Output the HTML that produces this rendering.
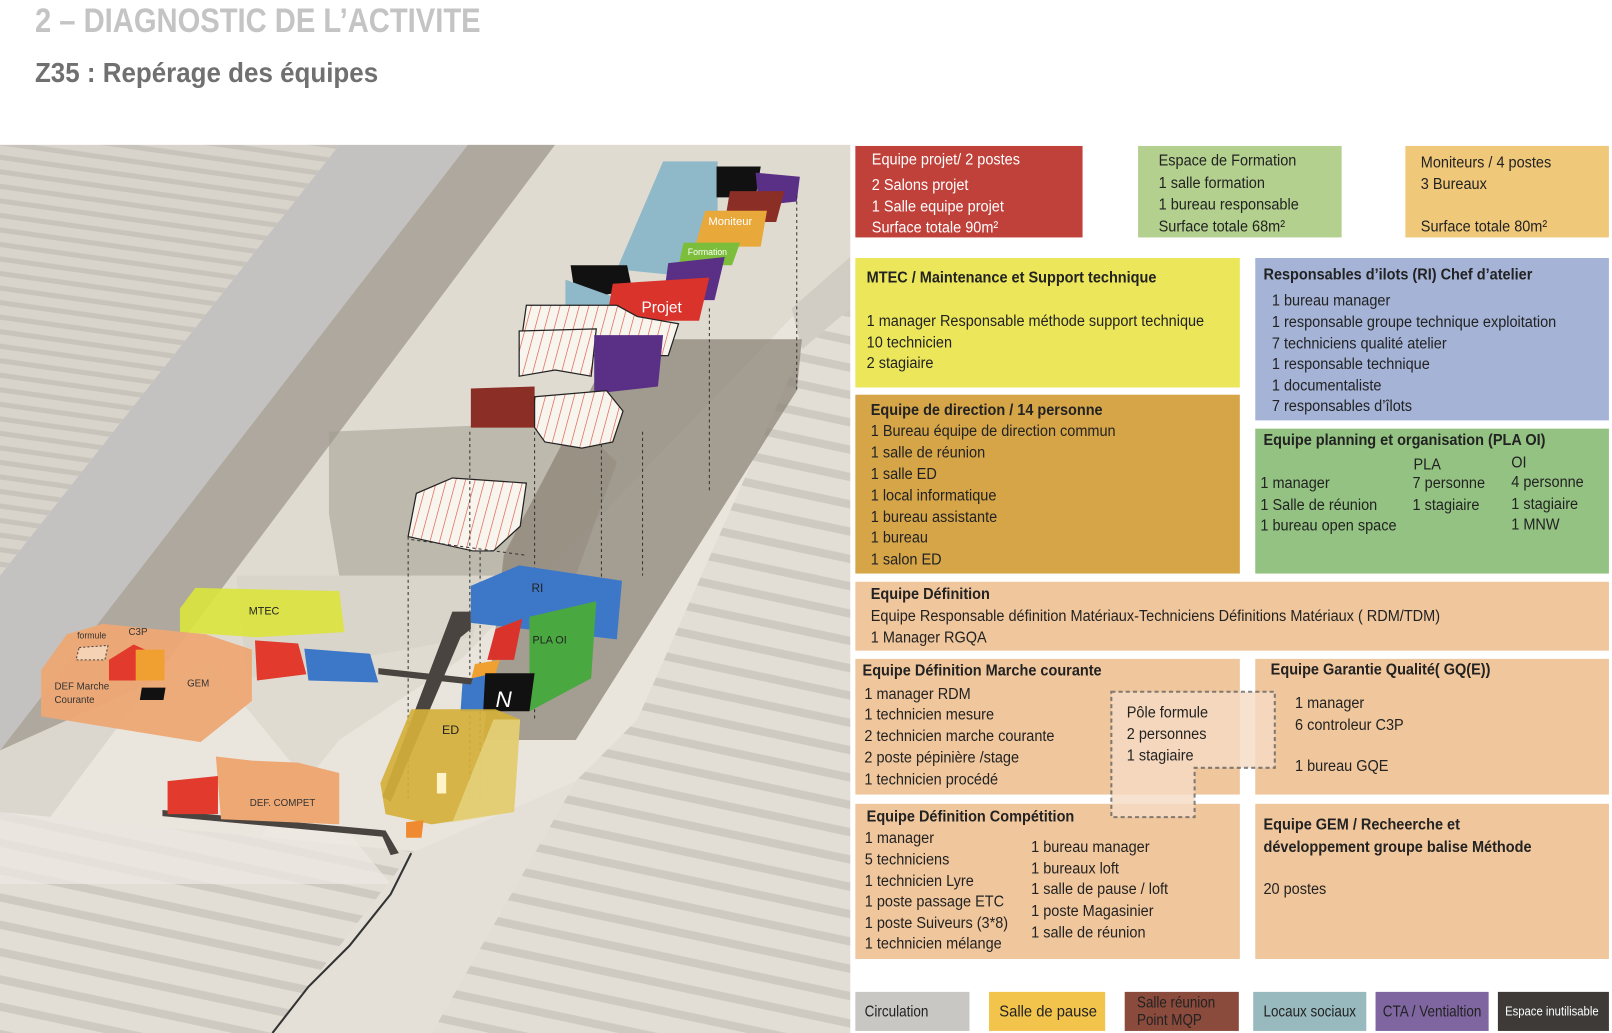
<!DOCTYPE html>
<html><head><meta charset="utf-8"><style>
html,body{margin:0;padding:0;background:#fff;}
svg{display:block;}
.t{font-family:"Liberation Sans",sans-serif;font-size:15.5px;fill:#222;}
.b{font-weight:bold;}
.w{fill:#fff;}
.m{font-family:"Liberation Sans",sans-serif;font-size:9.5px;fill:#333;}
</style></head><body>
<svg width="1612" height="1033" viewBox="0 0 1568 1005" preserveAspectRatio="none" xmlns="http://www.w3.org/2000/svg">
<defs>
<pattern id="hatch" width="9" height="9" patternUnits="userSpaceOnUse" patternTransform="rotate(15)">
<rect width="9" height="9" fill="#f8f4ee"/><line x1="0" y1="0" x2="0" y2="9" stroke="#d9503a" stroke-width="1.2"/></pattern>
<pattern id="roofL" width="40" height="14" patternUnits="userSpaceOnUse" patternTransform="rotate(8)">
<rect width="40" height="14" fill="#d8d4cc"/><rect y="9" width="40" height="5" fill="#c9c4bb"/></pattern>
<pattern id="roofR" width="60" height="26" patternUnits="userSpaceOnUse" patternTransform="rotate(12)">
<rect width="60" height="26" fill="#e2ded6"/><rect y="18" width="60" height="8" fill="#cfcac1"/></pattern>
</defs>
<!-- titles -->
<g transform="matrix(0.86,0,0,1,4.76,0)"><text x="34" y="31" style="font-family:'Liberation Sans',sans-serif;font-weight:bold;font-size:33px;fill:#c4c4c4">2 – DIAGNOSTIC DE L’ACTIVITE</text></g>
<g transform="matrix(0.935,0,0,1,2.21,0)"><text x="34" y="80" style="font-family:'Liberation Sans',sans-serif;font-weight:bold;font-size:27px;fill:#707070">Z35 : Repérage des équipes</text></g>

<!-- map -->
<g>
<rect x="0" y="141" width="827" height="864" fill="#e9e5dd"/>
<polygon points="0,141 330,141 0,560" fill="url(#roofL)"/>
<polygon points="330,141 455,141 0,730 0,560" fill="#c3c2c0"/>
<polygon points="455,141 540,141 0,860 0,730" fill="#aea89e"/>
<polygon points="540,141 827,141 827,250 450,640 330,720 200,880 0,940 0,860" fill="#e0dbd1"/>
<polygon points="0,790 420,830 265,1005 0,1005" fill="url(#roofR)"/>
<polygon points="780,340 827,300 827,1005 420,1005 560,760 620,700" fill="url(#roofR)"/>
<polygon points="827,250 827,300 780,340 770,300" fill="#d2cdc4"/>
<polygon points="320,420 560,410 600,450 560,560 330,560 320,500" fill="#a39c90" opacity="0.55"/>
<polygon points="600,330 780,330 775,380 560,720 470,720 490,540" fill="#8c8477" opacity="0.75"/>
<polygon points="230,560 470,560 460,620 240,660" fill="#d6d1c6" opacity="0.6"/>
<polygon points="0,730 200,640 380,860 0,860" fill="#eeeae2" opacity="0.7"/>
<polygon points="0,860 380,860 270,1005 0,1005" fill="url(#roofR)" opacity="0.9"/>
<polygon points="400,830 560,760 420,1005 265,1005" fill="#e4e0d8"/>
<!-- top column blocks -->
<polygon points="600,262 645,157 698,157 698,228 660,268" fill="#8fb8c8"/>
<polygon points="697,162 740,162 735,192 697,192" fill="#111"/>
<polygon points="735,168 778,172 775,196 738,200" fill="#5a2f86"/>
<polygon points="710,186 763,186 755,216 705,216" fill="#8a2e26"/>
<polygon points="686,205 746,205 740,240 676,240" fill="#e8a83a"/>
<text x="689" y="219" style="font-family:'Liberation Sans',sans-serif;font-size:11px;fill:#fff">Moniteur</text>
<polygon points="665,236 720,236 712,258 660,258" fill="#7cbe3c"/>
<text x="669" y="248" style="font-family:'Liberation Sans',sans-serif;font-size:8.5px;fill:#fff">Formation</text>
<polygon points="650,256 705,250 695,292 645,292" fill="#5a2f86"/>
<polygon points="555,258 610,258 615,282 560,292" fill="#111"/>
<polygon points="550,272 600,290 600,302 550,302" fill="#8fb8c8"/>
<polygon points="596,276 690,270 680,312 590,312" fill="#d9332b"/>
<polygon points="512,297 600,297 620,308 660,315 650,346 505,346" fill="url(#hatch)" stroke="#222" stroke-width="1.2"/>
<text x="624" y="304" style="font-family:'Liberation Sans',sans-serif;font-size:15px;fill:#fff">Projet</text>
<polygon points="505,322 580,320 575,366 540,360 505,366" fill="url(#hatch)" stroke="#222" stroke-width="1.2"/>
<polygon points="578,326 645,326 640,376 578,383" fill="#5a2f86"/>
<polygon points="458,378 520,376 520,416 458,416" fill="#8a2e26"/>
<polygon points="520,386 590,380 606,400 596,430 566,436 530,430 520,416" fill="url(#hatch)" stroke="#222" stroke-width="1.2"/>
<polygon points="405,480 440,465 512,470 506,512 480,536 460,536 397,522" fill="url(#hatch)" stroke="#222" stroke-width="1.2"/>
<g stroke="#333" stroke-width="1" stroke-dasharray="3,3">
<line x1="397" y1="522" x2="397" y2="780"/><line x1="457" y1="420" x2="457" y2="780"/>
<line x1="467" y1="536" x2="467" y2="780"/><line x1="520" y1="420" x2="520" y2="700"/>
<line x1="585" y1="432" x2="585" y2="600"/><line x1="625" y1="420" x2="625" y2="560"/>
<line x1="690" y1="300" x2="690" y2="480"/><line x1="775" y1="190" x2="775" y2="380"/>
<line x1="400" y1="525" x2="510" y2="540"/>
</g>
<!-- middle column -->
<polygon points="440,595 458,595 458,612 448,620 380,780 372,775" fill="#4a4440"/>
<polygon points="458,570 505,550 605,565 600,622 458,606" fill="#3d78c8"/>
<text x="517" y="576" style="font-family:'Liberation Sans',sans-serif;font-size:11.5px;fill:#222">RI</text>
<polygon points="515,600 580,585 575,660 515,692" fill="#4aa840"/>
<text x="518" y="626" style="font-family:'Liberation Sans',sans-serif;font-size:10.5px;fill:#222">PLA OI</text>
<polygon points="482,612 508,602 500,642 474,642" fill="#d9332b"/>
<polygon points="462,646 486,642 480,662 458,662" fill="#f0a030"/>
<polygon points="450,662 476,656 470,692 448,692" fill="#3d78c8"/>
<polygon points="472,655 520,655 515,692 470,692" fill="#111"/>
<text x="482" y="688" style="font-family:'Liberation Sans',sans-serif;font-size:22px;fill:#fff;font-style:italic">N</text>
<polygon points="400,690 482,690 506,700 500,790 420,802 375,792 370,762" fill="#d4b03a" opacity="0.92"/>
<polygon points="480,700 506,700 500,790 440,800" fill="#e8d98a" opacity="0.7"/>
<text x="430" y="714" style="font-family:'Liberation Sans',sans-serif;font-size:12px;fill:#222">ED</text>
<rect x="425" y="752" width="9" height="20" fill="#fff4c8"/>
<polygon points="395,800 412,798 410,815 395,815" fill="#f08a30"/>
<polygon points="368,650 460,660 458,666 368,656" fill="#4a4440"/>
<polygon points="158,788 375,808 388,830 380,832 372,814 158,794" fill="#4a4440"/>
<polyline points="400,830 380,870 340,920 300,960 265,1005" fill="none" stroke="#333" stroke-width="2"/>
<!-- left -->
<polygon points="175,592 190,572 330,575 335,615 250,620 175,615" fill="#dbe43c" opacity="0.9"/>
<text x="242" y="598" style="font-family:'Liberation Sans',sans-serif;font-size:10.5px;fill:#222">MTEC</text>
<polygon points="40,652 65,617 100,607 200,617 245,632 245,682 195,722 40,697" fill="#eea874" opacity="0.95"/>
<text x="75" y="621" class="m" style="font-size:8.5px">formule</text>
<text x="125" y="618" class="m">C3P</text>
<text x="182" y="668" class="m">GEM</text>
<text x="53" y="671" class="m">DEF Marche</text>
<text x="53" y="684" class="m">Courante</text>
<polygon points="77,630 105,628 102,642 74,642" fill="#f6d2b4" stroke="#444" stroke-dasharray="2,2"/>
<polygon points="106,642 130,627 150,636 140,662 106,662" fill="#e23a2c"/>
<polygon points="132,632 160,632 160,662 132,662" fill="#f0a030"/>
<polygon points="138,669 161,669 159,681 136,681" fill="#111"/>
<polygon points="248,623 290,626 298,656 250,662" fill="#e23a2c"/>
<polygon points="296,631 360,636 368,664 300,662" fill="#3d78c8"/>
<polygon points="210,736 245,740 290,742 330,752 330,802 215,797" fill="#eea874"/>
<text x="243" y="784" class="m">DEF. COMPET</text>
<polygon points="163,760 212,755 212,792 163,792" fill="#e23a2c"/>
</g>

<!-- right boxes -->
<rect x="832" y="142" width="221" height="89" fill="#c0403a"/>
<g transform="matrix(0.91,0,0,1,76.32,0)"><text class="t w"><tspan x="848" y="160">Equipe projet/ 2 postes</tspan><tspan x="848" y="185">2 Salons projet</tspan><tspan x="848" y="206">1 Salle equipe projet</tspan><tspan x="848" y="226">Surface totale 90m²</tspan></text></g>
<rect x="1107" y="142" width="198" height="89" fill="#b3d08e"/>
<g transform="matrix(0.91,0,0,1,101.43,0)"><text class="t"><tspan x="1127" y="161">Espace de Formation</tspan><tspan x="1127" y="183">1 salle formation</tspan><tspan x="1127" y="204">1 bureau responsable</tspan><tspan x="1127" y="225">Surface totale 68m²</tspan></text></g>
<rect x="1367" y="142" width="198" height="89" fill="#f0c87a"/>
<g transform="matrix(0.91,0,0,1,124.38,0)"><text class="t"><tspan x="1382" y="163">Moniteurs / 4 postes</tspan><tspan x="1382" y="184">3 Bureaux</tspan><tspan x="1382" y="225">Surface totale 80m²</tspan></text></g>

<rect x="832" y="251" width="374" height="126" fill="#ece65a"/>
<g transform="matrix(0.91,0,0,1,75.87,0)"><text class="t"><tspan x="843" y="275" class="b">MTEC / Maintenance et Support  technique</tspan><tspan x="843" y="317">1 manager Responsable méthode support technique</tspan><tspan x="843" y="338">10 technicien</tspan><tspan x="843" y="358">2 stagiaire</tspan></text></g>
<rect x="1221" y="251" width="344" height="158" fill="#a4b3d6"/>
<g transform="matrix(0.91,0,0,1,110.61,0)"><text class="t"><tspan x="1229" y="272" class="b">Responsables d’ilots (RI) Chef d’atelier</tspan><tspan x="1238" y="297">1 bureau manager</tspan><tspan x="1238" y="318">1 responsable groupe technique exploitation</tspan><tspan x="1238" y="339">7 techniciens qualité atelier</tspan><tspan x="1238" y="359">1 responsable technique</tspan><tspan x="1238" y="380">1 documentaliste</tspan><tspan x="1238" y="400">7 responsables d’îlots</tspan></text></g>

<rect x="832" y="384" width="374" height="174" fill="#d5a548"/>
<g transform="matrix(0.91,0,0,1,76.23,0)"><text class="t"><tspan x="847" y="404" class="b">Equipe de direction / 14 personne</tspan><tspan x="847" y="424">1 Bureau équipe de direction commun</tspan><tspan x="847" y="445">1 salle de réunion</tspan><tspan x="847" y="466">1 salle ED</tspan><tspan x="847" y="487">1 local informatique</tspan><tspan x="847" y="508">1 bureau assistante</tspan><tspan x="847" y="528">1 bureau</tspan><tspan x="847" y="549">1 salon ED</tspan></text></g>
<rect x="1221" y="417" width="344" height="141" fill="#93c282"/>
<g transform="matrix(0.91,0,0,1,110.61,0)"><text class="t"><tspan x="1229" y="433" class="b">Equipe planning et organisation (PLA OI)</tspan></text></g>
<g transform="matrix(0.91,0,0,1,110.34,0)"><text class="t"><tspan x="1226" y="475">1 manager</tspan><tspan x="1226" y="496">1 Salle de réunion</tspan><tspan x="1226" y="516">1 bureau open space</tspan></text></g>
<g transform="matrix(0.91,0,0,1,123.66,0)"><text class="t"><tspan x="1375" y="457">PLA</tspan><tspan x="1374" y="475">7 personne</tspan><tspan x="1374" y="496">1 stagiaire</tspan></text></g>
<g transform="matrix(0.91,0,0,1,132.3,0)"><text class="t"><tspan x="1470" y="455">OI</tspan><tspan x="1470" y="474">4 personne</tspan><tspan x="1470" y="495">1 stagiaire</tspan><tspan x="1470" y="515">1 MNW</tspan></text></g>

<rect x="832" y="566" width="733" height="67" fill="#f0c69c"/>
<g transform="matrix(0.91,0,0,1,76.23,0)"><text class="t"><tspan x="847" y="583" class="b">Equipe Définition</tspan><tspan x="847" y="604">Equipe Responsable définition Matériaux-Techniciens Définitions Matériaux ( RDM/TDM)</tspan><tspan x="847" y="625">1 Manager RGQA</tspan></text></g>

<rect x="832" y="641" width="374" height="132" fill="#f0c69c"/>
<rect x="1221" y="641" width="344" height="132" fill="#f0c69c"/>
<rect x="832" y="782" width="374" height="151" fill="#f0c69c"/>
<rect x="1221" y="782" width="344" height="151" fill="#f0c69c"/>
<polygon points="1081,673 1240,673 1240,747 1162,747 1162,795 1081,795" fill="#f6dcc4" opacity="0.8" stroke="#666" stroke-width="2" stroke-dasharray="4,3"/>
<g transform="matrix(0.91,0,0,1,75.51,0)"><text class="t"><tspan x="839" y="657" class="b">Equipe Définition Marche courante</tspan><tspan x="841" y="680">1 manager RDM</tspan><tspan x="841" y="700">1 technicien mesure</tspan><tspan x="841" y="721">2 technicien marche courante</tspan><tspan x="841" y="742">2 poste pépinière /stage</tspan><tspan x="841" y="763">1 technicien procédé</tspan></text></g>
<g transform="matrix(0.91,0,0,1,98.64,0)"><text class="t"><tspan x="1096" y="698">Pôle formule</tspan><tspan x="1096" y="719">2 personnes</tspan><tspan x="1096" y="740">1 stagiaire</tspan></text></g>
<g transform="matrix(0.91,0,0,1,111.24,0)"><text class="t"><tspan x="1236" y="656" class="b">Equipe Garantie Qualité( GQ(E))</tspan><tspan x="1262" y="689">1 manager</tspan><tspan x="1262" y="710">6 controleur C3P</tspan><tspan x="1262" y="750">1 bureau GQE</tspan></text></g>
<g transform="matrix(0.91,0,0,1,75.87,0)"><text class="t"><tspan x="843" y="799" class="b">Equipe Définition Compétition</tspan><tspan x="841" y="820">1 manager</tspan><tspan x="841" y="841">5 techniciens</tspan><tspan x="841" y="862">1 technicien  Lyre</tspan><tspan x="841" y="882">1 poste passage ETC</tspan><tspan x="841" y="903">1 poste Suiveurs (3*8)</tspan><tspan x="841" y="923">1 technicien mélange</tspan></text></g>
<g transform="matrix(0.91,0,0,1,90.27,0)"><text class="t"><tspan x="1003" y="829">1 bureau manager</tspan><tspan x="1003" y="850">1 bureaux loft</tspan><tspan x="1003" y="870">1 salle de pause / loft</tspan><tspan x="1003" y="891">1 poste Magasinier</tspan><tspan x="1003" y="912">1 salle de réunion</tspan></text></g>
<g transform="matrix(0.91,0,0,1,110.61,0)"><text class="t"><tspan x="1229" y="807" class="b">Equipe GEM / Recheerche et</tspan><tspan x="1229" y="829" class="b">développement groupe balise Méthode</tspan><tspan x="1229" y="870">20 postes</tspan></text></g>

<!-- legend -->
<rect x="832" y="965" width="111" height="38" fill="#c9c7c4"/>
<text class="t" x="841" y="989" textLength="62" lengthAdjust="spacingAndGlyphs">Circulation</text>
<rect x="962" y="965" width="113" height="38" fill="#f2c44c"/>
<text class="t" x="972" y="989" textLength="95" lengthAdjust="spacingAndGlyphs">Salle de pause</text>
<rect x="1094" y="965" width="111" height="38" fill="#8a4a3c"/>
<text class="t" x="1106" y="980" textLength="76" lengthAdjust="spacingAndGlyphs">Salle réunion</text>
<text class="t" x="1106" y="997" textLength="63" lengthAdjust="spacingAndGlyphs">Point MQP</text>
<rect x="1219" y="965" width="110" height="38" fill="#98babe"/>
<text class="t" x="1229" y="989" textLength="90" lengthAdjust="spacingAndGlyphs">Locaux sociaux</text>
<rect x="1338" y="965" width="110" height="38" fill="#7f66a0"/>
<text class="t" x="1345" y="989" textLength="96" lengthAdjust="spacingAndGlyphs">CTA / Ventialtion</text>
<rect x="1457" y="965" width="108" height="38" fill="#3d3a38"/>
<text class="t w" x="1464" y="988" style="font-size:12.5px" textLength="91" lengthAdjust="spacingAndGlyphs">Espace inutilisable</text>
</svg>
</body></html>
